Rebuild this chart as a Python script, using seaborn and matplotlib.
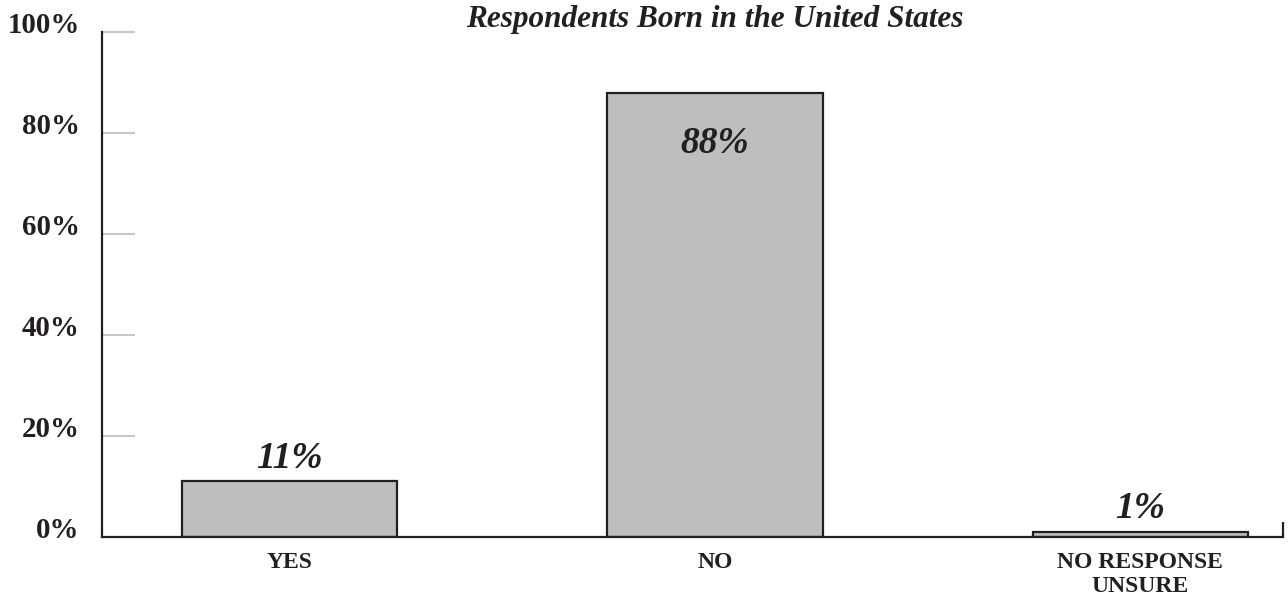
import matplotlib
matplotlib.use("Agg")
import matplotlib.pyplot as plt
from matplotlib.transforms import ScaledTranslation
import seaborn as sns
import pandas as pd

# Survey answers
categories = ["YES", "NO", "NO RESPONSE\nUNSURE"]
percentages = [11, 88, 1]
value_labels = ["11%", "88%", "1%"]
y_ticks = [0, 20, 40, 60, 80, 100]
y_tick_labels = ["0%", "20%", "40%", "60%", "80%", "100%"]
title = "Respondents Born in the United States"

df = pd.DataFrame({"answer": categories, "pct": percentages})

sns.set_theme(style="white")
plt.rcParams["font.family"] = ["Liberation Serif", "DejaVu Serif"]

fig = plt.figure(figsize=(12.88, 5.98), dpi=100)
ax = fig.add_axes([102 / 1288, 61 / 598, 1181 / 1288, 505 / 598])

bar_fill = "#bdbec0"
ink = "#231f20"

sns.barplot(data=df, x="answer", y="pct", ax=ax, color=bar_fill,
            saturation=1, width=0.506, edgecolor=ink, linewidth=1.6)

ax.set_xlim(-0.442, 2.336)
ax.set_ylim(0, 100)
ax.set_xlabel("")
ax.set_ylabel("")

# Axis frame: left and bottom only
for side in ("top", "right"):
    ax.spines[side].set_visible(False)
for side in ("left", "bottom"):
    ax.spines[side].set_color(ink)
    ax.spines[side].set_linewidth(1.6)

# Y axis: light inward ticks, bold labels sitting a little above each tick
ax.set_yticks(y_ticks)
ax.set_yticklabels(y_tick_labels, fontsize=20.8, fontweight="bold", color=ink)
ax.tick_params(axis="y", direction="in", length=24, width=1.5,
               color="#c8c8c8", pad=16, left=True)
shift = ScaledTranslation(0, 7 / 72, fig.dpi_scale_trans)
for lab in ax.get_yticklabels():
    lab.set_transform(lab.get_transform() + shift)

# X axis: category names, no tick marks, small closing tick at the end
ax.tick_params(axis="x", length=0, pad=11, bottom=True)
for lab in ax.get_xticklabels():
    lab.set_fontsize(17)
    lab.set_fontweight("bold")
    lab.set_color(ink)
    lab.set_linespacing(1.2)
ax.set_xticks([2.336], minor=True)
ax.tick_params(axis="x", which="minor", direction="in", length=11,
               width=1.6, color=ink, bottom=True)

# Value labels
for i, (v, txt) in enumerate(zip(percentages, value_labels)):
    if v > 50:
        ax.annotate(txt, (i, v), xytext=(0, -24), textcoords="offset points",
                    ha="center", va="top", fontsize=27, fontweight="bold",
                    fontstyle="italic", color=ink)
    else:
        ax.annotate(txt, (i, v), xytext=(0, 4), textcoords="offset points",
                    ha="center", va="bottom", fontsize=27, fontweight="bold",
                    fontstyle="italic", color=ink)

fig.text(715 / 1288, 1 - 19 / 598, title, ha="center", va="center",
         fontsize=22.5, fontweight="bold", fontstyle="italic", color=ink)

fig.savefig("out.png", dpi=100, facecolor="white")
